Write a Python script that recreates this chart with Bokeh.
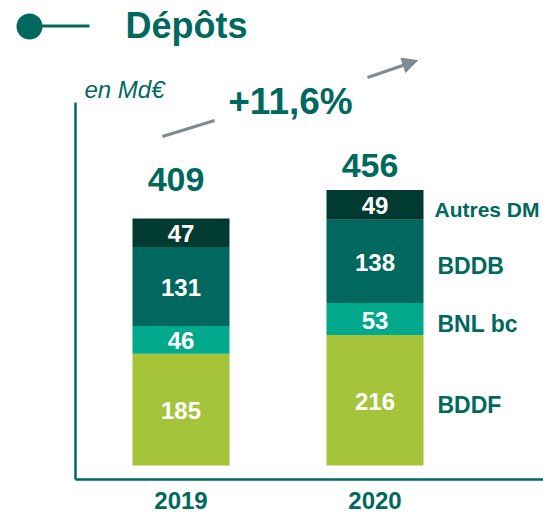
from bokeh.plotting import figure
from bokeh.models import ColumnDataSource, Range1d, Arrow, NormalHead
from bokeh.core.properties import value
from bokeh.embed import file_html
from bokeh.resources import INLINE

# ---- data ----
years = ["2019", "2020"]
segments = ["BDDF", "BNL bc", "BDDB", "Autres DM"]
bddf = [185, 216]
bnl_bc = [46, 53]
bddb = [131, 138]
autres_dm = [47, 49]
totals = [409, 456]
growth = "+11,6%"
unit_label = "en Md€"
title_text = "Dépôts"
colors = ["#A6C43A", "#00A98B", "#00685E", "#003A30"]

GREEN = "#00695D"
GREY = "#7F8B91"
SANS = value("Liberation Sans")

W, H = 543, 515
OFF = 0
S = 247.0 / 409.0          # px per Md€
BASE_Y = 465.0             # page y of value 0
C0, STEP = 180.5, 194.0    # page x of first bar centre, spacing


def X(px):
    return (px - C0) / STEP


def Y(py):
    return (BASE_Y - py) / S


p = figure(width=W, height=H, output_backend="svg", toolbar_location=None,
           x_range=Range1d(X(OFF), X(OFF + W)), y_range=Range1d(Y(OFF + H), Y(OFF)),
           min_border=0, outline_line_color=None)
p.axis.visible = False
p.grid.visible = False
p.background_fill_color = "white"
p.border_fill_color = "white"

xs = list(range(len(years)))
src = ColumnDataSource({"x": xs, "BDDF": bddf, "BNL bc": bnl_bc, "BDDB": bddb, "Autres DM": autres_dm})
p.vbar_stack(segments, x="x", width=0.5, color=colors, line_color=None, source=src)

# segment values
vx, vy, vt = [], [], []
series = [bddf, bnl_bc, bddb, autres_dm]
for i in xs:
    bottom = 0
    for s in series:
        vx.append(i)
        vy.append(bottom + s[i] / 2)
        vt.append(str(s[i]))
        bottom += s[i]
p.text(x=vx, y=vy, text=vt, text_align="center", text_baseline="middle",
       text_color="white", text_font=SANS, text_font_style="bold",
       text_font_size="24px", y_offset=1)

# totals
tot_src = ColumnDataSource({"x": [i - 5 / STEP for i in xs], "y": totals,
                            "t": [str(t) for t in totals], "dy": [-39.5, -24.5]})
p.text(x="x", y="y", text="t", y_offset="dy", source=tot_src,
       text_align="center", text_baseline="middle", text_color=GREEN,
       text_font=SANS, text_font_style="bold", text_font_size="34px")

# years
p.text(x=xs, y=[Y(500)] * 2, text=years, text_align="center", text_baseline="middle",
       text_color=GREEN, text_font=SANS, text_font_style="bold", text_font_size="24px")

# segment names next to last bar
last = len(years) - 1
ly, bottom = [], 0
for s in series:
    ly.append(bottom + s[last] / 2)
    bottom += s[last]
name_src = ColumnDataSource({"x": [X(437), X(437), X(437), X(434)], "y": ly, "t": segments,
                             "fs": ["23px", "23px", "23px", "21px"]})
p.text(x="x", y="y", text="t", text_font_size="fs", source=name_src,
       text_align="left", text_baseline="middle",
       text_color=GREEN, text_font=SANS, text_font_style="bold", y_offset=5)

# axis lines
p.line(x=[X(75), X(75)], y=[Y(102), Y(479)], line_color=GREEN, line_width=2.5)
p.line(x=[X(75), X(545)], y=[Y(479), Y(479)], line_color=GREEN, line_width=2.5)

# unit label
p.text(x=[X(84)], y=[Y(89)], text=[unit_label], text_align="left", text_baseline="middle",
       text_color=GREEN, text_font=SANS, text_font_style="italic", text_font_size="24px")

# growth label and arrow
p.text(x=[X(290)], y=[Y(101)], text=[growth], text_align="center", text_baseline="middle",
       text_color=GREEN, text_font=SANS, text_font_style="bold", text_font_size="37px")
p.line(x=[X(162), X(214)], y=[Y(136), Y(120)], line_color=GREY, line_width=3)
p.add_layout(Arrow(end=NormalHead(size=15, fill_color=GREY, line_color=GREY),
                   x_start=X(367), y_start=Y(77), x_end=X(417), y_end=Y(60),
                   line_color=GREY, line_width=3))

# title with marker
p.scatter(x=[X(29)], y=[Y(26)], size=26, color=GREEN, line_color=None)
p.line(x=[X(40), X(89)], y=[Y(25.5), Y(25.5)], line_color=GREEN, line_width=3)
p.text(x=[X(125)], y=[Y(25)], text=[title_text], text_align="left", text_baseline="middle",
       text_color=GREEN, text_font=SANS, text_font_style="bold", text_font_size="36px")

open("out.html", "w").write(file_html(p, INLINE))
